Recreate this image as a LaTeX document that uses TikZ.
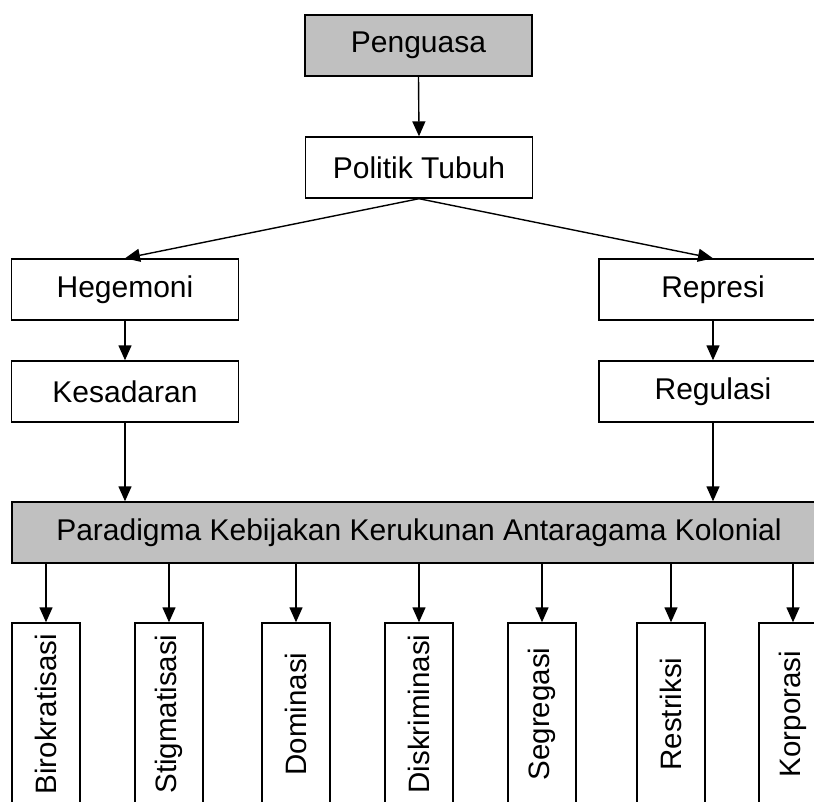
\documentclass[tikz,border=0pt]{standalone}
\usepackage{fontspec}
\setmainfont{Liberation Sans}
\usetikzlibrary{arrows.meta}
\definecolor{boxgray}{HTML}{C0C0C0}
\tikzset{
  box/.style={draw=black, line width=1.4pt, minimum height=61pt, inner sep=0pt,
              font=\fontsize{30}{36}\selectfont},
  widebox/.style={box, minimum width=227pt},
  shaded/.style={fill=boxgray},
  tallbox/.style={draw=black, line width=1.4pt, minimum width=68pt, minimum height=182pt,
              inner sep=0pt, font=\fontsize{29.5}{34}\selectfont},
  flow/.style={line width=1.4pt, -{Triangle[length=15pt,width=13pt]}}
}
\begin{document}
\begin{tikzpicture}[x=1pt,y=-1pt]
\clip (0,0) rectangle (814,801);
\fill[white] (0,0) rectangle (814,801);

% upper chain
\node[widebox, shaded] (penguasa) at (418.5,45.5) {Penguasa};
\node[widebox] (politik) at (419,167.5) {Politik Tubuh};
\node[widebox] (hegemoni) at (125,289.5) {Hegemoni};
\node[widebox] (kesadaran) at (125,391.5) {Kesadaran};
\node[box, minimum width=228pt] (represi) at (713,289.5) {Represi};
\node[box, minimum width=228pt] (regulasi) at (713,391.5) {Regulasi};
\node[box, shaded, minimum width=814pt] (paradigma) at (419,532.5)
  {Paradigma Kebijakan Kerukunan Antaragama Kolonial};

% bottom row of vertical boxes
\node[tallbox] (b1) at (46,714) {\rotatebox{90}{Birokratisasi}};
\node[tallbox] (b2) at (169,714) {\rotatebox{90}{Stigmatisasi}};
\node[tallbox] (b3) at (296,714) {\rotatebox{90}{Dominasi}};
\node[tallbox] (b4) at (419,714) {\rotatebox{90}{Diskriminasi}};
\node[tallbox] (b5) at (542,714) {\rotatebox{90}{Segregasi}};
\node[tallbox] (b6) at (671,714) {\rotatebox{90}{Restriksi}};
\node[tallbox] (b7) at (793,714) {\rotatebox{90}{Korporasi}};

% connectors
\draw[flow] (penguasa.south) -- (politik.north);
\draw[flow] (politik.south) -- (hegemoni.north);
\draw[flow] (politik.south) -- (represi.north);
\draw[flow] (hegemoni.south) -- (kesadaran.north);
\draw[flow] (represi.south) -- (regulasi.north);
\draw[flow] (kesadaran.south) -- (kesadaran.south |- paradigma.north);
\draw[flow] (regulasi.south) -- (regulasi.south |- paradigma.north);
\foreach \b in {b1,b2,b3,b4,b5,b6,b7}
  \draw[flow] (\b.north |- paradigma.south) -- (\b.north);
\end{tikzpicture}
\end{document}
